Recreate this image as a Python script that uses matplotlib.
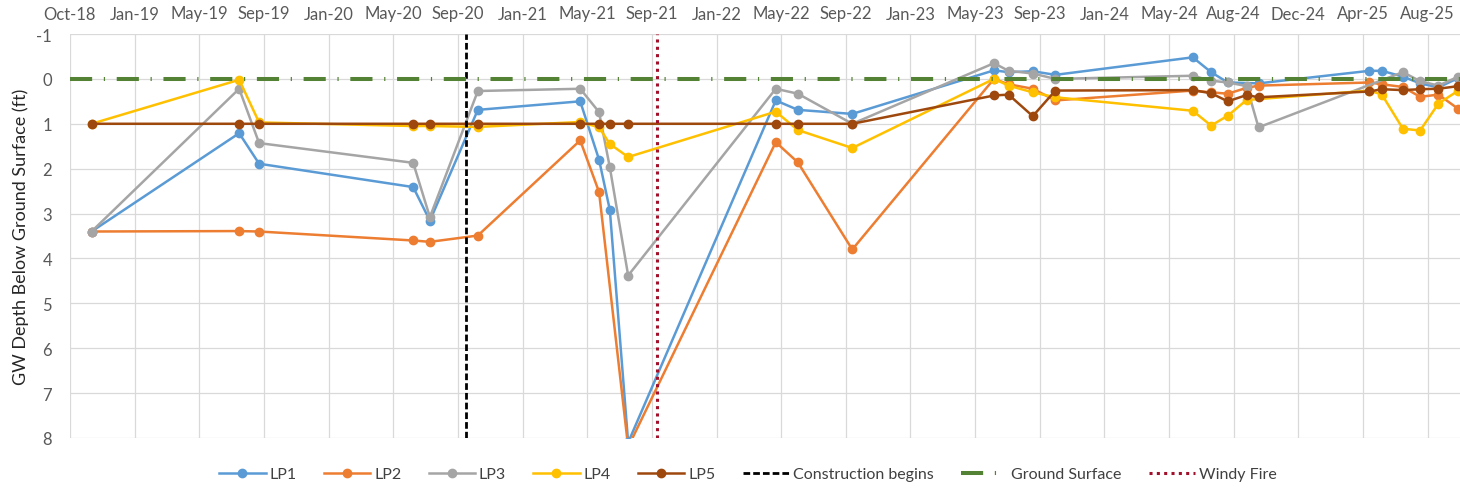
import numpy as np
import pandas as pd
import matplotlib
matplotlib.use("Agg")
import matplotlib.pyplot as plt
import matplotlib.dates as mdates

plt.rcParams["font.family"] = ["Lato", "DejaVu Sans"]
plt.rcParams["axes.unicode_minus"] = False

# water level readings, ft below ground surface (negative = above ground)
sample_dates = pd.to_datetime([
    "2018-11-10", "2019-08-11", "2019-09-17", "2020-06-29", "2020-07-30", "2020-10-27",
    "2021-05-05", "2021-06-09", "2021-06-29", "2021-08-02",
    "2022-05-03", "2022-06-13", "2022-09-22",
    "2023-06-12", "2023-07-09", "2023-08-23", "2023-10-04",
    "2024-06-15", "2024-07-19", "2024-08-19", "2024-09-23", "2024-10-15",
    "2025-05-09", "2025-06-01", "2025-07-10", "2025-08-11", "2025-09-14", "2025-10-21",
])
nan = np.nan
lp1 = [3.40, 1.21, 1.89, 2.41, 3.16, 0.69, 0.50, 1.80, 2.92, 8.10, 0.48, 0.69, 0.78,
       -0.19, -0.15, -0.17, -0.09, -0.48, -0.15, 0.08, nan, 0.10,
       -0.18, -0.18, -0.05, 0.10, 0.19, -0.02]
lp2 = [3.40, 3.39, 3.40, 3.60, 3.63, 3.49, 1.37, 2.52, nan, 8.20, 1.41, 1.86, 3.80,
       0.00, 0.12, 0.22, 0.48, 0.26, 0.30, 0.33, 0.20, 0.15,
       0.08, 0.12, 0.18, 0.40, 0.35, 0.67]
lp3 = [3.40, 0.22, 1.43, 1.87, 3.08, 0.27, 0.22, 0.74, 1.97, 4.38, 0.22, 0.33, 1.00,
       -0.35, -0.18, -0.12, 0.00, -0.07, 0.04, 0.08, 0.16, 1.08,
       nan, nan, -0.15, 0.05, 0.15, -0.05]
lp4 = [1.00, 0.02, 0.97, 1.05, 1.05, 1.07, 0.96, 1.08, 1.45, 1.74, 0.73, 1.14, 1.54,
       0.00, 0.15, 0.30, 0.41, 0.71, 1.04, 0.82, 0.47, nan,
       0.26, 0.35, 1.11, 1.15, 0.55, 0.26]
lp5 = [1.00, 1.00, 1.00, 1.00, 1.00, 1.00, 1.00, 1.00, 1.00, 1.00, 1.00, 1.00, 1.00,
       0.37, 0.35, 0.83, 0.26, 0.25, 0.32, 0.50, 0.36, 0.41,
       0.28, 0.23, 0.25, 0.23, 0.22, 0.16]

series_names = ["LP1", "LP2", "LP3", "LP4", "LP5"]
series_values = [lp1, lp2, lp3, lp4, lp5]
series_colors = ["#5B9BD5", "#ED7D31", "#A5A5A5", "#FFC000", "#9E480E"]

construction_date = pd.Timestamp("2020-10-05")
windy_fire_date = pd.Timestamp("2021-09-24")
ground_surface = 0.0

tick_dates = pd.date_range("2018-10-01", periods=22, freq="120D")
x_end = pd.Timestamp("2025-10-24")
depth_ticks = list(range(-1, 9))

fig = plt.figure(figsize=(14.6, 4.89), dpi=100)
ax = fig.add_axes([70 / 1460, 50 / 489, 1390 / 1460, 404 / 489])

for name, vals, color in zip(series_names, series_values, series_colors):
    vals = np.asarray(vals, dtype=float)
    ok = ~np.isnan(vals)
    ax.plot(sample_dates[ok], vals[ok], color=color, lw=1.8, marker="o",
            markersize=6, markeredgecolor=color, label=name, zorder=3)

ax.axvline(construction_date, color="black", lw=2.0, ls=(0, (2.4, 1.1)),
           label="Construction begins", zorder=4)
ax.axhline(ground_surface, color="#548235", lw=2.9, ls=(0, (5.5, 2.9, 0.3, 2.9)),
           label="Ground Surface", zorder=4)
ax.axvline(windy_fire_date, color="#A0102A", lw=2.2, ls=(0, (1, 1.4)),
           label="Windy Fire", zorder=5)

ax.set_xlim(tick_dates[0], x_end)
ax.set_ylim(depth_ticks[-1], depth_ticks[0])
ax.set_yticks(depth_ticks)
ax.set_xticks(tick_dates)
ax.xaxis.set_major_formatter(mdates.DateFormatter("%b-%y"))
ax.xaxis.tick_top()

ax.grid(True, color="#D9D9D9", lw=0.9, zorder=0)
ax.set_axisbelow(True)
for s in ax.spines.values():
    s.set_visible(False)
ax.tick_params(axis="both", length=0, labelcolor="#595959", labelsize=12)
ax.tick_params(axis="x", pad=9)
ax.tick_params(axis="y", pad=13)

ax.set_ylabel("GW Depth Below Ground Surface (ft)", fontsize=13, color="#262626")
ax.yaxis.set_label_coords(-0.0295, 0.5)

fig.legend(loc="center", bbox_to_anchor=(748 / 1460, 1 - 475 / 489), ncol=8,
           frameon=False, fontsize=11.5, handlelength=2.9, handletextpad=0.25,
           columnspacing=1.7, labelcolor="#404040")

fig.savefig("out.png", dpi=100, facecolor="white")
